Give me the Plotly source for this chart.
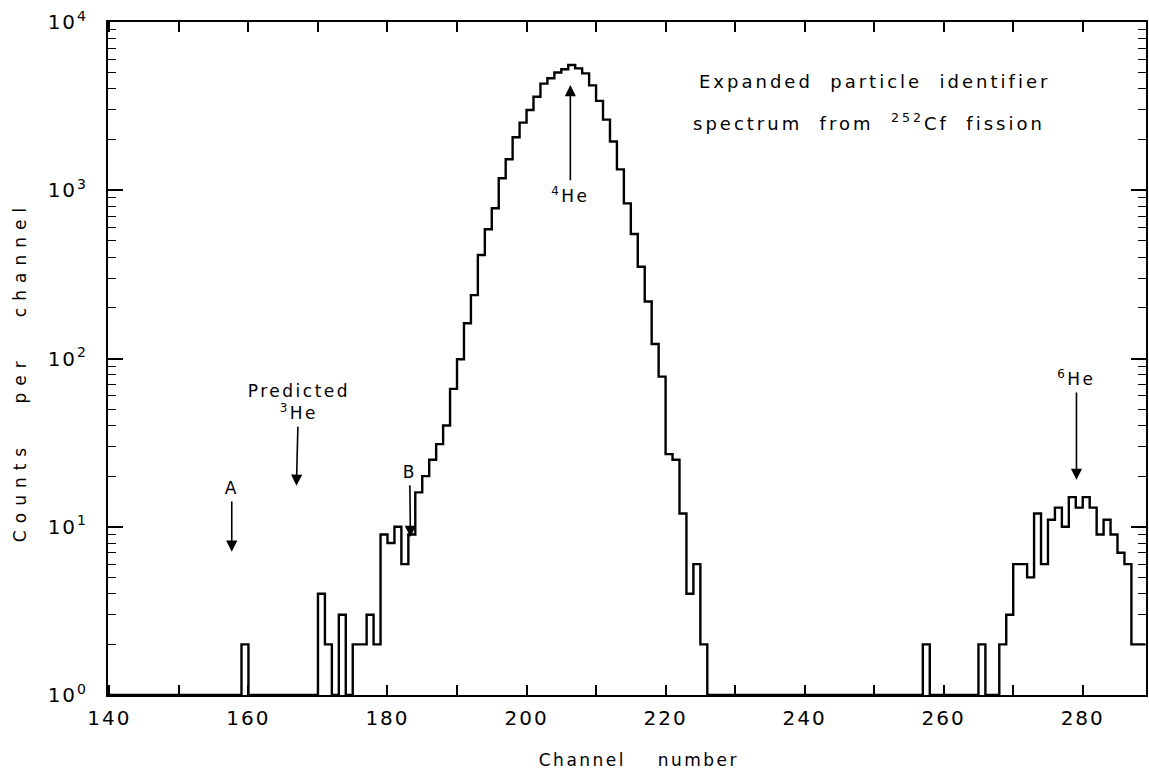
import numpy as np
import plotly.graph_objects as go

# ---- data: counts per channel (channels not listed have zero counts) ----
channels = [159, 170, 171, 173, 175, 176, 177, 178, 179, 180, 181, 182, 183, 184, 185,
            186, 187, 188, 189, 190, 191, 192, 193, 194, 195, 196, 197, 198, 199, 200,
            201, 202, 203, 204, 205, 206, 207, 208, 209, 210, 211, 212, 213, 214, 215,
            216, 217, 218, 219, 220, 221, 222, 223, 224, 225,
            257, 265, 268, 269, 270, 271, 272, 273, 274, 275, 276, 277, 278, 279, 280,
            281, 282, 283, 284, 285, 286, 287, 288]
counts = [2, 4, 2, 3, 2, 2, 3, 2, 9, 8, 10, 6, 9, 16, 20,
          25, 31, 40, 66, 99, 162, 238, 412, 586, 781, 1178, 1528, 2064, 2522, 2999,
          3597, 4300, 4627, 5012, 5236, 5550, 5300, 4950, 4200, 3400, 2630, 1950, 1330, 836, 550,
          351, 218, 122, 78, 27, 25, 12, 4, 6, 2,
          2, 2, 2, 3, 6, 6, 5, 12, 6, 11, 13, 10, 15, 13, 15,
          13, 9, 11, 9, 7, 6, 2, 2]
first_channel = 140
last_channel = 288

x_ticks = [140, 160, 180, 200, 220, 240, 260, 280]
x_labels = ["140", "160", "180", "200", "220", "240", "260", "280"]
x_minor = [150, 170, 190, 210, 230, 250, 270]
y_ticks = [1, 10, 100, 1000, 10000]
y_labels = ["10<sup>0</sup>", "10<sup>1</sup>", "10<sup>2</sup>", "10<sup>3</sup>", "10<sup>4</sup>"]
y_minor = [m * 10 ** d for d in range(4) for m in range(2, 10)]

# ---- build full step histogram ----
all_ch = np.arange(first_channel, last_channel + 1)
full = np.zeros(len(all_ch))
for c, v in zip(channels, counts):
    full[c - first_channel] = v
plot_vals = np.where(full > 0, full, 1.0)  # empty channels drawn on the baseline (10^0)
xs = np.append(all_ch, last_channel + 1)
ys = np.append(plot_vals, plot_vals[-1])

FONT = "DejaVu Sans"
fig = go.Figure()
fig.add_trace(go.Scatter(x=xs, y=ys, mode="lines", line=dict(shape="hv", color="black", width=2.4),
                         showlegend=False, hoverinfo="skip"))

fig.update_layout(
    width=1149, height=780,
    margin=dict(l=108, r=1, t=22, b=85),
    paper_bgcolor="white", plot_bgcolor="white",
    font=dict(family=FONT, color="black", size=17),
    xaxis=dict(range=[139.8, 289.1], showline=True, linecolor="black", linewidth=2, mirror="allticks",
               ticks="inside", ticklen=10, tickwidth=1.5, tickcolor="black",
               tickvals=x_ticks, ticktext=x_labels, showgrid=False, zeroline=False,
               tickfont=dict(size=20, family=FONT), ticklabelstandoff=4,
               minor=dict(tickvals=x_minor, ticks="inside", ticklen=10, tickwidth=1.5,
                          tickcolor="black", showgrid=False)),
    yaxis=dict(type="log", range=[0, 4], showline=True, linecolor="black", linewidth=2, mirror="allticks",
               ticks="inside", ticklen=15, tickwidth=1.5, tickcolor="black",
               tickvals=y_ticks, ticktext=y_labels, showgrid=False, zeroline=False,
               tickfont=dict(size=20, family=FONT), ticklabelstandoff=14,
               minor=dict(tickvals=y_minor, ticks="inside", ticklen=8, tickwidth=1.2,
                          tickcolor="black", showgrid=False)),
)

ann = []
def arrow_label(x_tip, y_tip, x_txt, y_txt, text):
    ann.append(dict(x=x_tip, y=np.log10(y_tip), ax=x_txt, ay=np.log10(y_txt), xref="x", yref="y",
                    axref="x", ayref="y", showarrow=True, arrowhead=2, arrowsize=1.4,
                    arrowwidth=1.6, arrowcolor="black", text=text, standoff=0, startstandoff=2,
                    font=dict(size=17, family=FONT)))

arrow_label(157.6, 7.1, 157.6, 17.0, "A")
arrow_label(166.9, 17.5, 167.2, 55.0, "Predicted<br><sup>3</sup>He")
arrow_label(183.3, 8.7, 183.2, 21.2, "B")
arrow_label(206.3, 4223, 206.3, 940, "<sup>4</sup>He")
arrow_label(279.1, 19.0, 279.1, 76.6, "<sup>6</sup>He")

ann.append(dict(x=0.7385, y=0.911, xref="paper", yref="paper", xanchor="center", yanchor="middle",
                showarrow=False, text="Expanded  particle  identifier", font=dict(size=18, family=FONT)))
ann.append(dict(x=0.7335, y=0.852, xref="paper", yref="paper", xanchor="center", yanchor="middle",
                showarrow=False, text="spectrum  from  <sup>252</sup>Cf  fission", font=dict(size=18, family=FONT)))
ann.append(dict(x=-0.0846, y=0.480, xref="paper", yref="paper", xanchor="center", yanchor="middle",
                showarrow=False, textangle=-90,
                text="Counts   per   channel", font=dict(size=17, family=FONT)))
ann.append(dict(x=0.5115, y=-0.0966, xref="paper", yref="paper", xanchor="center", yanchor="middle",
                showarrow=False, text="Channel    number", font=dict(size=17, family=FONT)))
fig.update_layout(annotations=ann)

post = """
document.body.style.margin='0';
document.body.style.overflow='hidden';
document.querySelectorAll('text.annotation-text').forEach(function(t){
  var s = t.textContent;
  if (s.indexOf('Counts') === 0) { t.style.letterSpacing = '7px'; }
  else if (s.indexOf('Expanded') === 0 || s.indexOf('spectrum') === 0) { t.style.letterSpacing = '3px'; }
  else { t.style.letterSpacing = '2.5px'; }
});
document.querySelectorAll('g.xtick text, g.ytick text').forEach(function(t){ t.style.letterSpacing = '2px'; });
"""

fig.write_html("out.html", post_script=post, config={"displayModeBar": False})
